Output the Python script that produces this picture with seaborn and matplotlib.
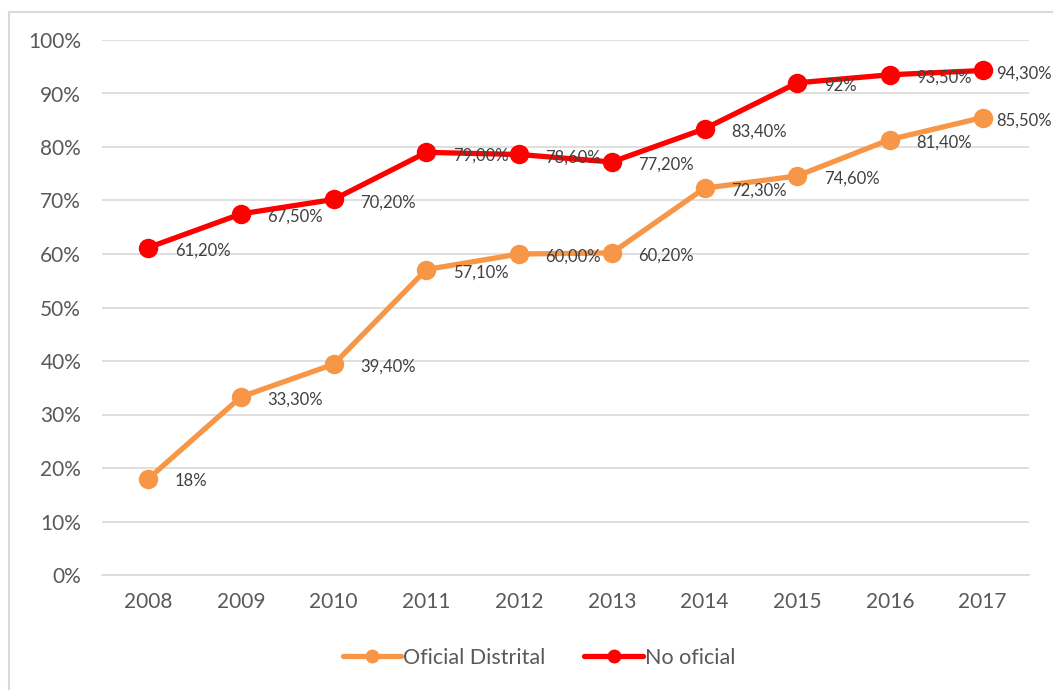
import pandas as pd
import seaborn as sns
import matplotlib.pyplot as plt
from matplotlib.lines import Line2D

# data
years = [2008, 2009, 2010, 2011, 2012, 2013, 2014, 2015, 2016, 2017]
oficial = [18.0, 33.3, 39.4, 57.1, 60.0, 60.2, 72.3, 74.6, 81.4, 85.5]
no_oficial = [61.2, 67.5, 70.2, 79.0, 78.6, 77.2, 83.4, 92.0, 93.5, 94.3]
oficial_labels = ["18%", "33,30%", "39,40%", "57,10%", "60,00%", "60,20%",
                  "72,30%", "74,60%", "81,40%", "85,50%"]
no_oficial_labels = ["61,20%", "67,50%", "70,20%", "79,00%", "78,60%", "77,20%",
                     "83,40%", "92%", "93,50%", "94,30%"]
series_names = ["Oficial Distrital", "No oficial"]
colors = {"Oficial Distrital": "#F79646", "No oficial": "#FF0000"}

df = pd.DataFrame({
    "year": [str(y) for y in years] * 2,
    "value": oficial + no_oficial,
    "serie": [series_names[0]] * len(years) + [series_names[1]] * len(years),
    "label": oficial_labels + no_oficial_labels,
})

sns.set_theme(style="white")
plt.rcParams["font.family"] = ["Lato", "DejaVu Sans"]

fig = plt.figure(figsize=(10.53, 6.9), dpi=100)
ax = fig.add_axes([102 / 1053, 115 / 690, 927 / 1053, 535 / 690])

sns.lineplot(data=df, x="year", y="value", hue="serie", palette=colors,
             marker="o", markersize=14, linewidth=3.8, markeredgewidth=0,
             sort=False, ax=ax, legend=False)

last = str(years[-1])
for _, row in df.iterrows():
    dx = 10 if row["year"] == last else 19
    ax.annotate(row["label"], (row["year"], row["value"]),
                xytext=(dx, -2), textcoords="offset points",
                ha="left", va="center", fontsize=12, color="#404040",
                annotation_clip=False)

ax.set_ylim(0, 100)
ax.set_xlim(-0.5, len(years) - 0.5)
ax.set_yticks(range(0, 101, 10))
ax.set_yticklabels([f"{v}%" for v in range(0, 101, 10)])
ax.yaxis.grid(True, color="#D9D9D9", linewidth=1.2)
ax.set_axisbelow(True)
for s in ["top", "right", "left"]:
    ax.spines[s].set_visible(False)
ax.spines["bottom"].set_color("#D9D9D9")
ax.spines["bottom"].set_linewidth(1.2)
ax.tick_params(axis="both", length=0, labelsize=15, labelcolor="#595959")
ax.tick_params(axis="x", pad=12)
ax.tick_params(axis="y", pad=15)
ax.set_xlabel("")
ax.set_ylabel("")

handles = [Line2D([0], [0], color=colors[n], marker="o", markersize=10,
                  linewidth=3.8, markeredgewidth=0) for n in series_names]
fig.legend(handles, series_names, loc="center", bbox_to_anchor=(0.512, 1 - 658 / 690),
           ncol=2, frameon=False, fontsize=15.5, labelcolor="#595959",
           handlelength=2.7, handletextpad=0.1, columnspacing=1.8)

# chart frame (left and top edges visible in the reference)
fig.add_artist(Line2D([9 / 1053, 9 / 1053], [0, 1 - 12 / 690],
                      transform=fig.transFigure, color="#D9D9D9", linewidth=1.5))
fig.add_artist(Line2D([9 / 1053, 1], [1 - 12 / 690, 1 - 12 / 690],
                      transform=fig.transFigure, color="#D9D9D9", linewidth=1.5))

fig.savefig("out.png", dpi=100)
